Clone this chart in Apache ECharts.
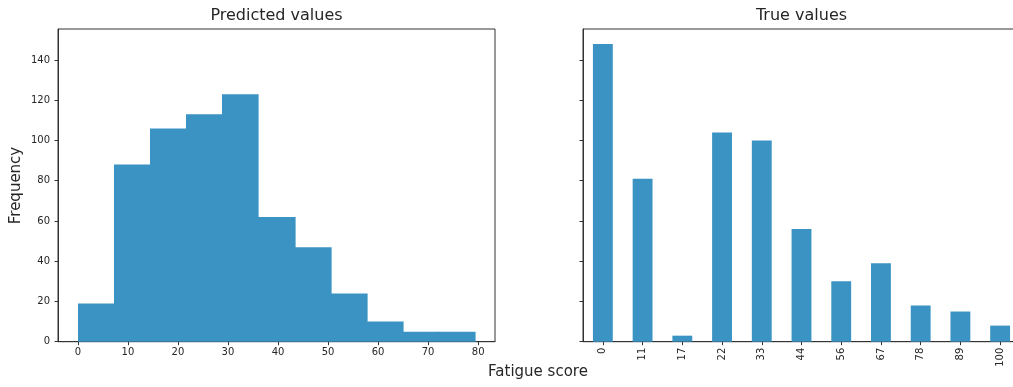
<!DOCTYPE html>
<html>
<head>
<meta charset="utf-8">
<script src="https://cdn.jsdelivr.net/npm/echarts@6/dist/echarts.min.js"></script>
<style>
  html, body { margin: 0; padding: 0; background: #fff; overflow: hidden; }
  #chart { width: 1020px; height: 387px; }
</style>
</head>
<body>
<div id="chart"></div>
<script>
// ---- Data ----
const predBinEdges = [0, 7.22, 14.44, 21.65, 28.87, 36.09, 43.31, 50.53, 57.75, 64.96, 72.18, 79.4];
const predCounts = [19, 88, 106, 113, 123, 62, 47, 24, 10, 5, 5];
const trueCategories = ['0', '11', '17', '22', '33', '44', '56', '67', '78', '89', '100'];
const trueCounts = [148, 81, 3, 104, 100, 56, 30, 39, 18, 15, 8];
const xTicksLeft = [0, 10, 20, 30, 40, 50, 60, 70, 80];
const yTicks = [0, 20, 40, 60, 80, 100, 120, 140];
const titles = ['Predicted values', 'True values'];
const yLabel = 'Frequency';
const xLabel = 'Fatigue score';

// ---- Style ----
const barColor = '#3a93c2';
const axisColor = '#333333';
const textColor = '#262626';
const font = 'DejaVu Sans';

const histData = predCounts.map((c, i) => [predBinEdges[i], predBinEdges[i + 1], c]);

const chart = echarts.init(document.getElementById('chart'), null, { renderer: 'canvas', width: 1020, height: 387 });

const yMax = 155.4;

const commonLabel = { fontFamily: font, fontSize: 10, color: textColor };

const option = {
  animation: false,
  backgroundColor: '#ffffff',
  grid: [
    { left: 58, top: 29, width: 437, height: 312.7, show: true, borderColor: axisColor, borderWidth: 1, backgroundColor: 'transparent' },
    { left: 583, top: 29, width: 437, height: 312.7, show: true, borderColor: axisColor, borderWidth: 1, backgroundColor: 'transparent' }
  ],
  xAxis: [
    {
      type: 'value', gridIndex: 0, min: -3.97, max: 83.37,
      splitLine: { show: false },
      axisLine: { show: true, onZero: false, lineStyle: { color: axisColor, width: 1 } },
      axisTick: { show: true, length: 3.5, lineStyle: { color: axisColor }, customValues: xTicksLeft },
      axisLabel: Object.assign({ margin: 6, customValues: xTicksLeft }, commonLabel)
    },
    {
      type: 'category', gridIndex: 1, data: trueCategories,
      axisLine: { show: true, onZero: false, lineStyle: { color: axisColor, width: 1 } },
      axisTick: { show: true, alignWithLabel: true, length: 3.5, lineStyle: { color: axisColor } },
      axisLabel: Object.assign({ margin: 6, rotate: 90, interval: 0 }, commonLabel)
    }
  ],
  yAxis: [
    {
      type: 'value', gridIndex: 0, min: 0, max: yMax,
      splitLine: { show: false },
      axisLine: { show: true, onZero: false, lineStyle: { color: axisColor, width: 1 } },
      axisTick: { show: true, length: 3.5, lineStyle: { color: axisColor }, customValues: yTicks },
      axisLabel: Object.assign({ margin: 8, customValues: yTicks }, commonLabel)
    },
    {
      type: 'value', gridIndex: 1, min: 0, max: yMax,
      splitLine: { show: false },
      axisLine: { show: true, onZero: false, lineStyle: { color: axisColor, width: 1 } },
      axisTick: { show: true, length: 3.5, lineStyle: { color: axisColor }, customValues: yTicks },
      axisLabel: { show: false }
    }
  ],
  series: [
    {
      type: 'custom', xAxisIndex: 0, yAxisIndex: 0,
      data: histData,
      encode: { x: [0, 1], y: 2 },
      renderItem: function (params, api) {
        const p0 = api.coord([api.value(0), 0]);
        const p1 = api.coord([api.value(1), api.value(2)]);
        const x0 = Math.round(p0[0]);
        const x1 = Math.round(p1[0]);
        return {
          type: 'rect',
          shape: { x: x0, y: p1[1], width: x1 - x0 + 0.6, height: p0[1] - p1[1] },
          style: { fill: barColor }
        };
      }
    },
    {
      type: 'bar', xAxisIndex: 1, yAxisIndex: 1,
      data: trueCounts,
      barWidth: '50%',
      itemStyle: { color: barColor }
    }
  ],
  graphic: [
    { type: 'text', x: 276.5, y: 16, style: { text: titles[0], font: '16px "DejaVu Sans"', fill: textColor, textAlign: 'center', textVerticalAlign: 'middle' } },
    { type: 'text', x: 801.5, y: 16, style: { text: titles[1], font: '16px "DejaVu Sans"', fill: textColor, textAlign: 'center', textVerticalAlign: 'middle' } },
    { type: 'text', x: 16.5, y: 185.5, rotation: Math.PI / 2, style: { text: yLabel, font: '15px "DejaVu Sans"', fill: textColor, textAlign: 'center', textVerticalAlign: 'middle' } },
    { type: 'text', x: 538, y: 372, style: { text: xLabel, font: '15px "DejaVu Sans"', fill: textColor, textAlign: 'center', textVerticalAlign: 'middle' } }
  ]
};

chart.setOption(option);
</script>
</body>
</html>
